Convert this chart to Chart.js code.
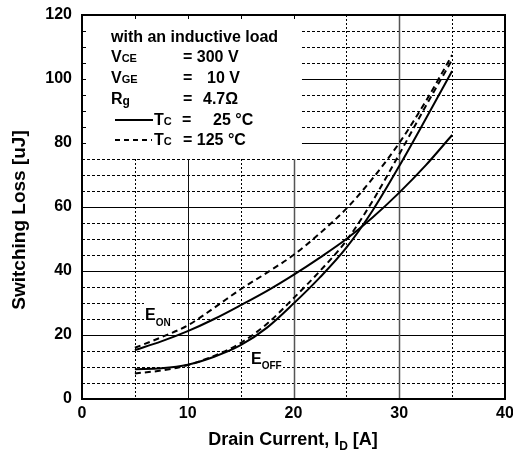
<!DOCTYPE html>
<html>
<head>
<meta charset="utf-8">
<script src="https://cdn.jsdelivr.net/npm/chart.js@4"></script>
<style>
  html, body { margin: 0; padding: 0; background: #fff; }
  canvas { display: block; }
</style>
</head>
<body>
<canvas id="lossChart" width="513" height="452"></canvas>
<script>
// values (uJ vs drain current in A)
const currents = [5, 7.5, 10, 12.5, 15, 17.5, 20, 22.5, 25, 27.5, 30, 32.5, 35];
const eOn25 = [15.3, 18.0, 21.2, 25.0, 29.3, 33.8, 38.8, 44.2, 50.0, 56.8, 64.5, 73.0, 82.5];
const eOn125 = [16.0, 19.3, 23.0, 28.5, 34.3, 39.5, 45.0, 51.8, 59.5, 69.0, 80.0, 93.0, 107.5];
const eOff25 = [9.3, 9.6, 10.7, 13.2, 16.8, 22.3, 29.8, 38.0, 47.3, 59.0, 72.8, 87.5, 102.5];
const eOff125 = [8.0, 8.9, 10.6, 13.5, 17.5, 23.5, 31.5, 40.0, 49.5, 62.0, 76.5, 91.5, 106.0];

const xTicks = [0, 10, 20, 30, 40];
const yTicks = [0, 20, 40, 60, 80, 100, 120];

const FONT = '"Liberation Sans", Arial, sans-serif';

function pts(ys) {
  return currents.map((x, i) => ({ x: x, y: ys[i] }));
}

function series(label, ys, dashed) {
  return {
    label: label,
    data: pts(ys),
    borderColor: "#000",
    borderWidth: 2,
    borderDash: dashed ? [6, 4] : [],
    pointRadius: 0,
    fill: false,
    cubicInterpolationMode: "monotone",
  };
}

// draw text made of runs with different sizes on one baseline
function runs(ctx, x, y, parts) {
  ctx.textAlign = "left";
  ctx.textBaseline = "alphabetic";
  parts.forEach(([txt, size, dy]) => {
    ctx.font = "bold " + size + "px " + FONT;
    ctx.fillText(txt, x, y + (dy || 0));
    x += ctx.measureText(txt).width;
  });
  return x;
}

const gridPlugin = {
  id: "gridPlugin",
  beforeDatasetsDraw(chart) {
    const { ctx, chartArea: a, scales } = chart;
    const xs = scales.x, ys = scales.y;
    ctx.save();
    // horizontal lines every 5, solid at multiples of 20
    for (let v = 5; v < 120; v += 5) {
      const py = Math.round(ys.getPixelForValue(v)) + 0.5;
      ctx.beginPath();
      ctx.setLineDash(v % 20 === 0 ? [] : [3, 2]);
      ctx.strokeStyle = "#000";
      ctx.lineWidth = 1;
      ctx.moveTo(a.left, py);
      ctx.lineTo(a.right, py);
      ctx.stroke();
    }
    // vertical lines every 5, solid at multiples of 10
    for (let v = 5; v < 40; v += 5) {
      const px = Math.round(xs.getPixelForValue(v)) + 0.5;
      ctx.beginPath();
      if (v % 10 === 0) {
        ctx.setLineDash([]);
        ctx.strokeStyle = v === 10 ? "#111" : "#555";
        ctx.lineWidth = v === 10 ? 1 : 1.5;
      } else {
        ctx.setLineDash([2, 2]);
        ctx.strokeStyle = "#000";
        ctx.lineWidth = 1;
      }
      ctx.moveTo(px, a.top);
      ctx.lineTo(px, a.bottom);
      ctx.stroke();
    }
    ctx.setLineDash([]);

    // white box behind the conditions text
    const bx = xs.getPixelForValue(20.8);
    const by = ys.getPixelForValue(75);
    ctx.fillStyle = "#fff";
    ctx.fillRect(a.left, a.top, bx - a.left, by - a.top);

    // small inward ticks on left and top edges
    ctx.strokeStyle = "#000";
    ctx.lineWidth = 1;
    for (let v = 80; v < 120; v += 5) {
      const py = Math.round(ys.getPixelForValue(v)) + 0.5;
      ctx.beginPath();
      ctx.moveTo(a.left, py);
      ctx.lineTo(a.left + 4, py);
      ctx.stroke();
    }
    for (let v = 5; v <= 20; v += 5) {
      const px = Math.round(xs.getPixelForValue(v)) + 0.5;
      ctx.beginPath();
      ctx.moveTo(px, a.top);
      ctx.lineTo(px, a.top + 4);
      ctx.stroke();
    }

    // conditions text
    ctx.fillStyle = "#000";
    runs(ctx, 111, 42, [["with an inductive load", 16]]);
    runs(ctx, 111, 62, [["V", 16], ["CE", 11]]);
    runs(ctx, 183, 62, [["= 300 V", 16]]);
    runs(ctx, 111, 83, [["V", 16], ["GE", 11]]);
    runs(ctx, 183, 83, [["=", 16]]);
    runs(ctx, 207, 83, [["10 V", 16]]);
    runs(ctx, 111, 104, [["R", 16], ["g", 12, 1]]);
    runs(ctx, 183, 104, [["=", 16]]);
    runs(ctx, 203, 104, [["4.7\u03A9", 16]]);

    ctx.lineWidth = 2;
    ctx.beginPath();
    ctx.moveTo(115, 120);
    ctx.lineTo(153, 120);
    ctx.stroke();
    runs(ctx, 154, 125, [["T", 16], ["C", 11]]);
    runs(ctx, 182, 125, [["=", 16]]);
    runs(ctx, 213, 125, [["25 \u00B0C", 16]]);

    ctx.setLineDash([5, 4]);
    ctx.beginPath();
    ctx.moveTo(115, 140);
    ctx.lineTo(152, 140);
    ctx.stroke();
    ctx.setLineDash([]);
    runs(ctx, 154, 145, [["T", 16], ["C", 11]]);
    runs(ctx, 183, 145, [["= 125 \u00B0C", 16]]);
    ctx.restore();
  },
  afterDatasetsDraw(chart) {
    const { ctx, chartArea: a } = chart;
    ctx.save();
    // frame
    ctx.strokeStyle = "#000";
    ctx.lineWidth = 2;
    ctx.strokeRect(a.left, a.top, a.right - a.left, a.bottom - a.top);

    // curve labels with white background
    ctx.fillStyle = "#fff";
    ctx.fillRect(144, 303, 27, 26);
    ctx.fillRect(250, 350, 33, 21);
    ctx.fillStyle = "#000";
    runs(ctx, 145, 320, [["E", 16], ["ON", 10, 6]]);
    runs(ctx, 251, 364, [["E", 16], ["OFF", 10, 5]]);

    // axis titles
    const xTitleParts = [["Drain Current, I", 18], ["D", 12, 5], [" [A]", 18]];
    let w = 0;
    xTitleParts.forEach(([t, s]) => {
      ctx.font = "bold " + s + "px " + FONT;
      w += ctx.measureText(t).width;
    });
    runs(ctx, 293 - w / 2, 445, xTitleParts);

    ctx.translate(25, 220);
    ctx.rotate(-Math.PI / 2);
    ctx.font = "bold 19px " + FONT;
    ctx.textAlign = "center";
    ctx.textBaseline = "alphabetic";
    ctx.fillText("Switching Loss [uJ]", 0, 0);
    ctx.restore();
  },
};

const tickFont = { family: FONT, size: 16, weight: "bold" };

new Chart(document.getElementById("lossChart"), {
  type: "line",
  data: {
    datasets: [
      series("Eon 25", eOn25, false),
      series("Eon 125", eOn125, true),
      series("Eoff 25", eOff25, false),
      series("Eoff 125", eOff125, true),
    ],
  },
  options: {
    responsive: false,
    animation: false,
    layout: { padding: { top: 15, right: 8, left: 0, bottom: 0 } },
    plugins: { legend: { display: false }, tooltip: { enabled: false } },
    scales: {
      x: {
        type: "linear",
        min: 0,
        max: 40,
        afterBuildTicks: (s) => { s.ticks = xTicks.map((v) => ({ value: v })); },
        ticks: { font: tickFont, color: "#000", padding: 5, maxRotation: 0 },
        grid: { display: false, drawTicks: false },
        border: { display: false },
        afterFit: (s) => { s.height = 53; s.paddingLeft = 0; s.paddingRight = 0; },
      },
      y: {
        type: "linear",
        min: 0,
        max: 120,
        afterBuildTicks: (s) => { s.ticks = yTicks.map((v) => ({ value: v })); },
        ticks: { font: tickFont, color: "#000", padding: 10 },
        grid: { display: false, drawTicks: false },
        border: { display: false },
        afterFit: (s) => { s.width = 82; s.paddingTop = 0; s.paddingBottom = 0; },
      },
    },
  },
  plugins: [gridPlugin],
});
</script>
</body>
</html>
